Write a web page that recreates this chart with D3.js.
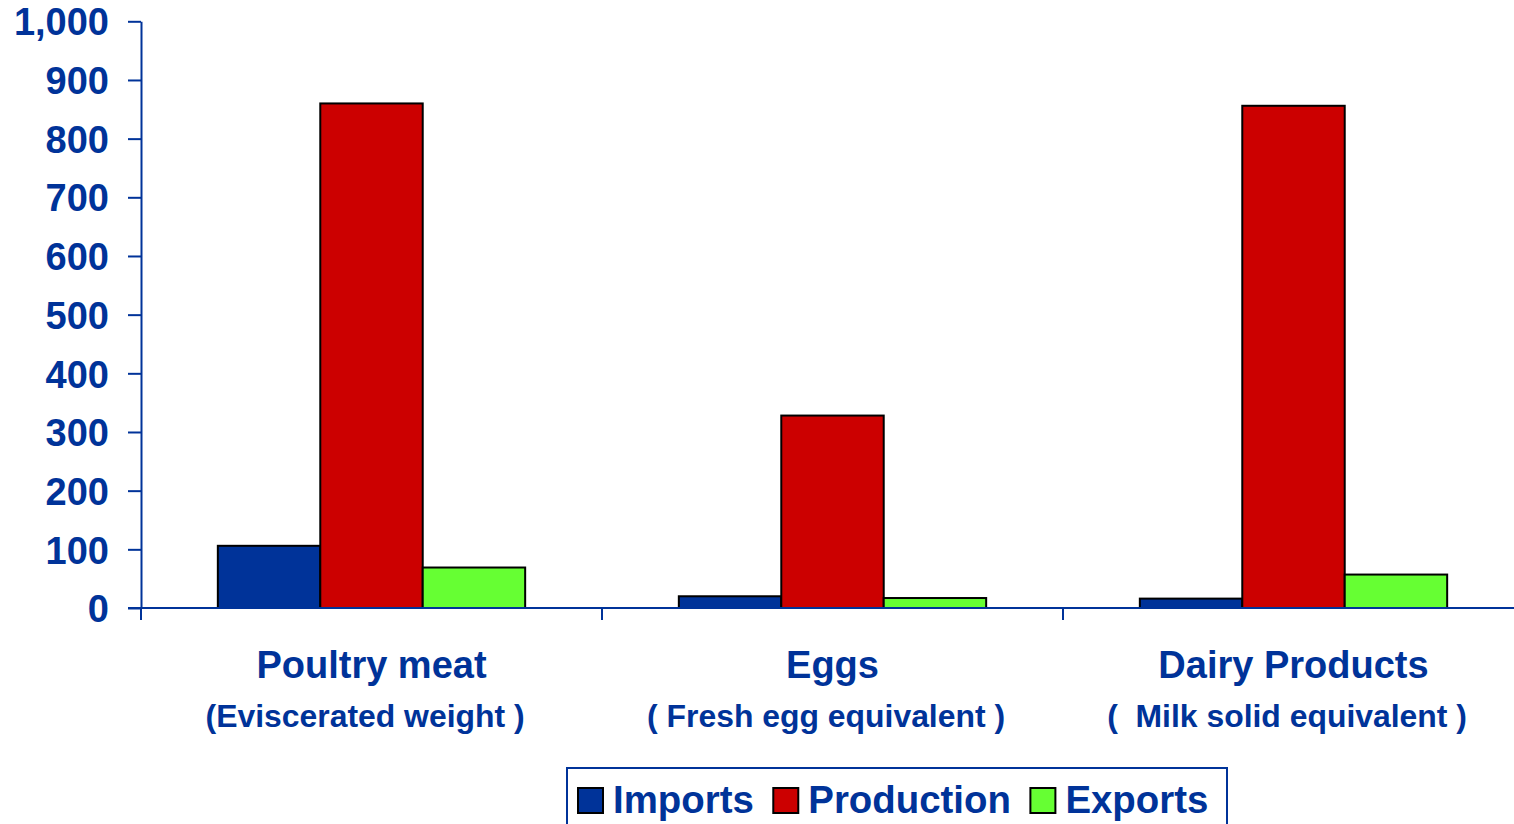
<!DOCTYPE html>
<html><head><meta charset="utf-8">
<script src="https://cdn.jsdelivr.net/npm/d3@7"></script>
<style>
html,body{margin:0;padding:0;background:#fff;overflow:hidden}
text{font-family:"Liberation Sans",Arial,sans-serif;font-weight:bold;fill:#003399}
</style></head>
<body><svg id="c" width="1514" height="824"></svg>
<script>
const categories = ["Poultry meat", "Eggs", "Dairy Products"];
const subLabels = ["(Eviscerated weight ) ", "( Fresh egg equivalent ) ", "(  Milk solid equivalent ) "];
const series = ["Imports", "Production", "Exports"];
const imports = [106, 20, 16];
const production = [860, 328, 856];
const exports_ = [69, 17, 57];
const colors = ["#003399", "#CC0000", "#66FF33"];
const yTicks = [0, 100, 200, 300, 400, 500, 600, 700, 800, 900, 1000];

const values = [imports, production, exports_];
const data = categories.map((c, i) => ({cat: c, vals: series.map((s, j) => ({s, v: values[j][i], color: colors[j]}))}));

const svg = d3.select("#c");
const blue = "#003399";
const x0 = d3.scaleBand().domain(categories).range([141, 141 + 3 * 461]).padding(0);
const x1 = d3.scaleBand().domain(series).range([0, x0.bandwidth()]).paddingInner(0).paddingOuter(0.75);
const y = d3.scaleLinear().domain([0, 1000]).range([608, 21.3]);

// bars
const g = svg.append("g");
g.selectAll("g.cat").data(data).join("g").attr("class", "cat")
  .attr("transform", d => `translate(${x0(d.cat)},0)`)
  .selectAll("rect").data(d => d.vals).join("rect")
  .attr("x", d => x1(d.s)).attr("width", x1.bandwidth())
  .attr("y", d => y(d.v)).attr("height", d => y(0) - y(d.v))
  .attr("fill", d => d.color).attr("stroke", "#000").attr("stroke-width", 2);

// y axis
const yAxis = svg.append("g").attr("transform", "translate(141,0)")
  .call(d3.axisLeft(y).tickValues(yTicks).tickFormat(d3.format(",")).tickSize(13).tickPadding(19).tickSizeOuter(0));
yAxis.select(".domain").attr("stroke", blue).attr("stroke-width", 2);
yAxis.selectAll(".tick line").attr("stroke", blue).attr("stroke-width", 2);
yAxis.selectAll(".tick text").style("font-size", "38px").attr("fill", blue).attr("dy", "0.36em");

// x axis
const xAxisG = svg.append("g");
xAxisG.append("line").attr("x1", 128).attr("x2", 1514).attr("y1", y(0)).attr("y2", y(0))
  .attr("stroke", blue).attr("stroke-width", 2);
const bounds = categories.map(c => x0(c));
xAxisG.selectAll("line.t").data(bounds).join("line").attr("class", "t")
  .attr("x1", d => d).attr("x2", d => d).attr("y1", y(0)).attr("y2", y(0) + 12)
  .attr("stroke", blue).attr("stroke-width", 2);

// category labels
const lab = svg.append("g");
lab.selectAll("text.l1").data(categories).join("text").attr("class", "l1")
  .attr("x", d => x0(d) + x0.bandwidth() / 2).attr("y", 678)
  .attr("text-anchor", "middle").style("font-size", "38px").text(d => d);
lab.selectAll("text.l2").data(subLabels).join("text").attr("class", "l2")
  .attr("x", (d, i) => x0(categories[i]) + x0.bandwidth() / 2 - 2).attr("y", 727)
  .attr("text-anchor", "middle").attr("xml:space", "preserve").style("white-space", "pre")
  .style("font-size", "31.9px").text(d => d);

// legend
const leg = svg.append("g");
leg.append("rect").attr("x", 567).attr("y", 768).attr("width", 660).attr("height", 80)
  .attr("fill", "#fff").attr("stroke", blue).attr("stroke-width", 2);
let lx = 578;
series.forEach((s, i) => {
  leg.append("rect").attr("x", lx).attr("y", 788).attr("width", 25).attr("height", 25)
    .attr("fill", colors[i]).attr("stroke", "#000").attr("stroke-width", 2);
  const t = leg.append("text").attr("x", lx + 35).attr("y", 813).style("font-size", "38.4px").text(s);
  lx = lx + 35 + t.node().getComputedTextLength() + 19.5;
});
</script></body></html>
